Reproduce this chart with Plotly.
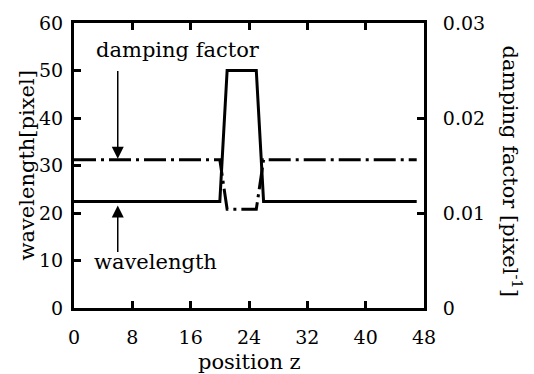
import plotly.graph_objects as go

# Data
position_z = [0, 20, 21, 25, 26, 47]
wavelength = [22.4, 22.4, 50.0, 50.0, 22.4, 22.4]
damping = [0.0156, 0.0156, 0.0104, 0.0104, 0.0156, 0.0156]

x_ticks = [0, 8, 16, 24, 32, 40, 48]
y_ticks = [0, 10, 20, 30, 40, 50, 60]
y2_ticks = [0, 0.01, 0.02, 0.03]
y2_ticktext = ["0", "0.01", "0.02", "0.03"]

FONT = "DejaVu Serif"
tick_font = dict(family=FONT, size=19, color="black")
label_font = dict(family=FONT, size=21, color="black")

fig = go.Figure()
fig.add_trace(go.Scatter(x=position_z, y=wavelength, mode="lines",
                         line=dict(color="black", width=3), yaxis="y",
                         showlegend=False))
fig.add_trace(go.Scatter(x=position_z, y=damping, mode="lines",
                         line=dict(color="black", width=3, dash="22px,5px,3px,5px"),
                         yaxis="y2", showlegend=False))

axis_common = dict(showline=True, linecolor="black", linewidth=3,
                   ticks="inside", ticklen=7, tickwidth=2.5, tickcolor="black",
                   showgrid=False, zeroline=False, tickfont=tick_font)

fig.update_layout(
    width=534, height=374,
    font=dict(family=FONT, color="black"),
    margin=dict(l=74, r=110, t=16, b=66),
    paper_bgcolor="white", plot_bgcolor="white",
    xaxis=dict(range=[0, 48], tickvals=x_ticks, mirror="ticks",
               ticklabelstandoff=10, **axis_common),
    yaxis=dict(range=[0, 60], tickvals=y_ticks, mirror=False,
               ticklabelstandoff=4, **axis_common),
    yaxis2=dict(range=[0, 0.03], tickvals=y2_ticks, ticktext=y2_ticktext,
                overlaying="y", side="right", ticklabelstandoff=12, **axis_common),
    annotations=[
        # axis titles
        dict(text="position z", xref="paper", yref="paper", x=0.5, y=0,
             xanchor="center", yanchor="middle", yshift=-54, showarrow=False,
             font=label_font),
        dict(text="wavelength[pixel]", xref="paper", yref="paper", x=0, y=0.5,
             xanchor="center", yanchor="middle",
             xshift=-48, textangle=-90, showarrow=False, font=label_font),
        dict(text="damping factor [pixel<sup>-1</sup>]", xref="paper", yref="paper",
             x=1, y=0.5, xanchor="center", yanchor="middle",
             xshift=88, yshift=-5, textangle=90, showarrow=False, font=label_font),
        # labels
        dict(text="damping factor", xref="x", yref="y", x=14.25, y=54.3,
             xanchor="center", yanchor="middle", showarrow=False, font=label_font),
        dict(text="wavelength", xref="x", yref="y", x=11.2, y=9.7,
             xanchor="center", yanchor="middle", showarrow=False, font=label_font),
        # arrows
        dict(text="", xref="x", yref="y2", x=6, y=damping[0],
             axref="x", ayref="y2", ax=6, ay=0.0251, showarrow=True,
             arrowhead=2, arrowsize=1.6, arrowwidth=1.5, arrowcolor="black", standoff=1),
        dict(text="", xref="x", yref="y", x=6, y=wavelength[0],
             axref="x", ayref="y", ax=6, ay=11.5, showarrow=True,
             arrowhead=2, arrowsize=1.6, arrowwidth=1.5, arrowcolor="black", standoff=4),
    ],
)

fig.write_html("out.html")
